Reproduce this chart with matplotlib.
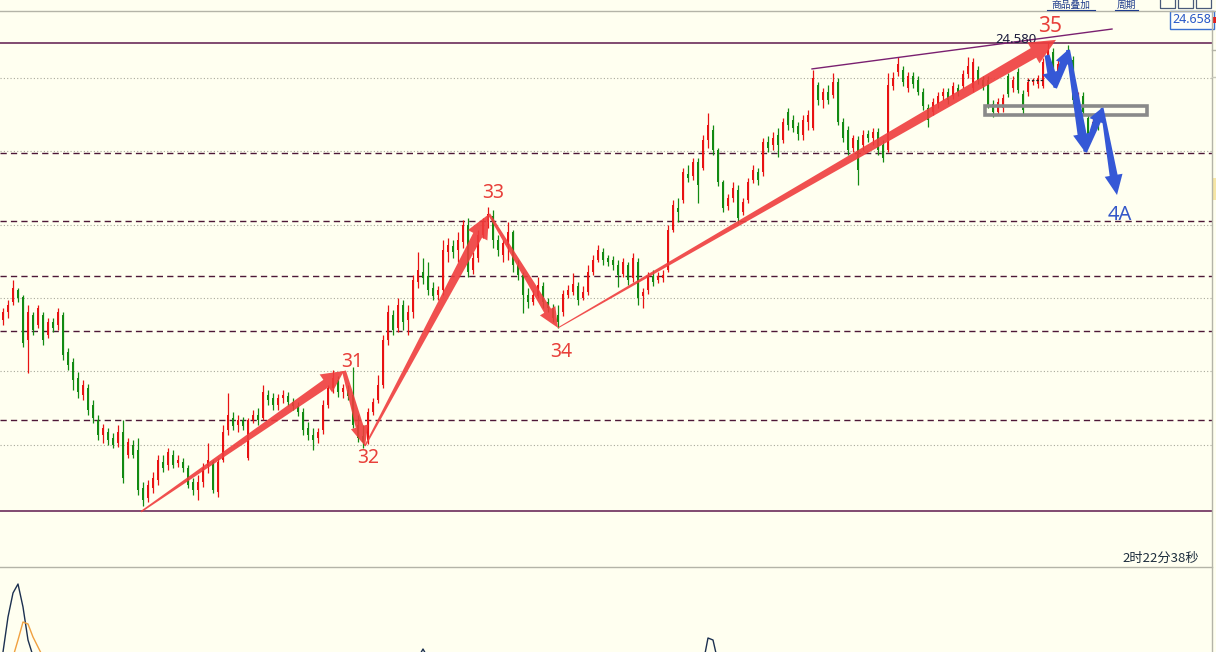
import numpy as np
import matplotlib
matplotlib.use("Agg")
import matplotlib.pyplot as plt
from matplotlib.patches import Polygon, Rectangle
from matplotlib.lines import Line2D
import matplotlib.transforms as mtransforms

# ---------------- data (prices) ----------------
opens = [
23.635, 23.662, 23.696, 23.737, 23.713, 23.567, 23.652, 23.618, 23.652, 23.584,
23.628, 23.618, 23.652, 23.526, 23.491, 23.437, 23.379, 23.403, 23.345, 23.294,
23.243, 23.253, 23.233, 23.216, 23.253, 23.175, 23.209, 23.192, 23.062, 23.028,
23.062, 23.089, 23.151, 23.140, 23.175, 23.147, 23.151, 23.130, 23.082, 23.055,
23.082, 23.137, 23.151, 23.048, 23.157, 23.260, 23.301, 23.277, 23.294, 23.164,
23.294, 23.311, 23.301, 23.379, 23.369, 23.345, 23.369, 23.376, 23.355, 23.342,
23.321, 23.267, 23.243, 23.233, 23.260, 23.345, 23.403, 23.430, 23.389, 23.396,
23.379, 23.277, 23.240, 23.226, 23.321, 23.362, 23.413, 23.567, 23.652, 23.608,
23.686, 23.635, 23.662, 23.764, 23.798, 23.785, 23.744, 23.720, 23.737, 23.867,
23.887, 23.874, 23.901, 23.959, 23.805, 23.846, 23.925, 23.969, 23.990, 23.908,
23.857, 23.891, 23.935, 23.822, 23.788, 23.720, 23.696, 23.717, 23.751, 23.696,
23.676, 23.652, 23.662, 23.720, 23.730, 23.751, 23.710, 23.730, 23.798, 23.840,
23.867, 23.846, 23.840, 23.822, 23.792, 23.822, 23.778, 23.833, 23.717, 23.737,
23.785, 23.771, 23.778, 23.805, 23.942, 24.017, 24.044, 24.133, 24.126, 24.174,
24.153, 24.249, 24.283, 24.215, 24.105, 24.024, 24.051, 24.078, 24.003, 24.044,
24.112, 24.139, 24.139, 24.242, 24.232, 24.266, 24.249, 24.344, 24.317, 24.296,
24.266, 24.310, 24.290, 24.436, 24.385, 24.412, 24.402, 24.446, 24.310, 24.283,
24.221, 24.249, 24.232, 24.269, 24.255, 24.276, 24.232, 24.215, 24.433, 24.480,
24.487, 24.426, 24.467, 24.453, 24.412, 24.358, 24.344, 24.372, 24.399, 24.412,
24.399, 24.426, 24.433, 24.474, 24.426, 24.487, 24.453, 24.453, 24.372, 24.344,
24.358, 24.467, 24.426, 24.480, 24.406, 24.412, 24.446, 24.440, 24.433, 24.515,
24.549, 24.480, 24.508, 24.556, 24.521, 24.372, 24.399, 24.324, 24.283, 24.303,
]
highs = [
23.676, 23.703, 23.771, 23.744, 23.720, 23.686, 23.662, 23.686, 23.662, 23.642,
23.642, 23.676, 23.662, 23.540, 23.505, 23.457, 23.430, 23.416, 23.362, 23.311,
23.280, 23.267, 23.250, 23.277, 23.294, 23.233, 23.226, 23.233, 23.082, 23.089,
23.116, 23.175, 23.175, 23.199, 23.192, 23.175, 23.164, 23.140, 23.096, 23.106,
23.147, 23.216, 23.157, 23.164, 23.277, 23.386, 23.321, 23.311, 23.304, 23.301,
23.328, 23.335, 23.413, 23.396, 23.386, 23.383, 23.396, 23.389, 23.369, 23.355,
23.335, 23.287, 23.267, 23.267, 23.362, 23.413, 23.464, 23.444, 23.416, 23.413,
23.474, 23.311, 23.277, 23.335, 23.369, 23.447, 23.584, 23.686, 23.669, 23.710,
23.703, 23.686, 23.788, 23.867, 23.846, 23.832, 23.764, 23.751, 23.908, 23.915,
23.908, 23.935, 23.976, 23.983, 23.867, 23.942, 23.983, 24.020, 24.010, 23.925,
23.908, 23.969, 23.942, 23.840, 23.798, 23.744, 23.737, 23.781, 23.764, 23.710,
23.690, 23.686, 23.737, 23.754, 23.795, 23.764, 23.751, 23.822, 23.857, 23.891,
23.881, 23.857, 23.853, 23.840, 23.846, 23.833, 23.863, 23.846, 23.744, 23.798,
23.805, 23.798, 23.805, 23.959, 24.044, 24.051, 24.153, 24.163, 24.187, 24.187,
24.266, 24.341, 24.300, 24.221, 24.112, 24.065, 24.105, 24.095, 24.051, 24.119,
24.163, 24.153, 24.255, 24.262, 24.276, 24.289, 24.324, 24.358, 24.334, 24.310,
24.334, 24.351, 24.487, 24.446, 24.426, 24.436, 24.477, 24.460, 24.324, 24.296,
24.266, 24.262, 24.283, 24.283, 24.289, 24.289, 24.249, 24.477, 24.480, 24.532,
24.501, 24.480, 24.480, 24.467, 24.426, 24.372, 24.392, 24.412, 24.426, 24.426,
24.446, 24.440, 24.487, 24.532, 24.528, 24.501, 24.467, 24.467, 24.385, 24.392,
24.406, 24.477, 24.467, 24.494, 24.419, 24.460, 24.460, 24.470, 24.528, 24.583,
24.562, 24.521, 24.538, 24.573, 24.535, 24.412, 24.412, 24.337, 24.327, 24.317,
]
lows = [
23.618, 23.642, 23.686, 23.696, 23.543, 23.454, 23.584, 23.608, 23.550, 23.574,
23.594, 23.601, 23.498, 23.464, 23.396, 23.369, 23.362, 23.311, 23.284, 23.226,
23.216, 23.209, 23.199, 23.202, 23.079, 23.165, 23.165, 23.038, 23.000, 23.014,
23.045, 23.072, 23.116, 23.123, 23.130, 23.133, 23.116, 23.062, 23.038, 23.021,
23.065, 23.113, 23.045, 23.031, 23.151, 23.243, 23.260, 23.253, 23.260, 23.157,
23.284, 23.277, 23.294, 23.345, 23.328, 23.328, 23.352, 23.342, 23.328, 23.308,
23.243, 23.226, 23.192, 23.216, 23.246, 23.335, 23.386, 23.372, 23.369, 23.362,
23.267, 23.219, 23.199, 23.212, 23.311, 23.352, 23.403, 23.550, 23.584, 23.594,
23.601, 23.584, 23.642, 23.744, 23.758, 23.720, 23.703, 23.703, 23.720, 23.833,
23.846, 23.833, 23.881, 23.781, 23.792, 23.833, 23.915, 23.949, 23.881, 23.853,
23.833, 23.840, 23.798, 23.771, 23.659, 23.676, 23.686, 23.710, 23.676, 23.662,
23.628, 23.608, 23.648, 23.710, 23.720, 23.686, 23.703, 23.720, 23.788, 23.833,
23.822, 23.819, 23.805, 23.747, 23.781, 23.754, 23.764, 23.686, 23.676, 23.724,
23.751, 23.761, 23.764, 23.798, 23.935, 23.969, 24.034, 24.105, 24.112, 24.034,
24.146, 24.221, 24.197, 24.092, 24.003, 24.010, 24.037, 23.966, 23.993, 24.034,
24.102, 24.095, 24.126, 24.208, 24.215, 24.191, 24.239, 24.283, 24.276, 24.249,
24.249, 24.283, 24.283, 24.368, 24.358, 24.372, 24.392, 24.300, 24.242, 24.197,
24.208, 24.095, 24.215, 24.242, 24.232, 24.197, 24.174, 24.208, 24.419, 24.467,
24.433, 24.412, 24.426, 24.402, 24.351, 24.293, 24.334, 24.358, 24.385, 24.372,
24.389, 24.399, 24.426, 24.460, 24.412, 24.440, 24.419, 24.358, 24.327, 24.334,
24.344, 24.395, 24.412, 24.409, 24.337, 24.399, 24.436, 24.426, 24.426, 24.501,
24.460, 24.467, 24.494, 24.515, 24.372, 24.351, 24.334, 24.255, 24.273, 24.283,
]
closes = [
23.662, 23.686, 23.744, 23.710, 23.557, 23.662, 23.601, 23.676, 23.567, 23.628,
23.608, 23.662, 23.516, 23.481, 23.430, 23.389, 23.413, 23.328, 23.301, 23.243,
23.267, 23.226, 23.209, 23.253, 23.096, 23.219, 23.175, 23.055, 23.021, 23.072,
23.096, 23.157, 23.130, 23.185, 23.140, 23.157, 23.130, 23.072, 23.055, 23.082,
23.130, 23.157, 23.055, 23.151, 23.253, 23.311, 23.274, 23.294, 23.274, 23.294,
23.311, 23.294, 23.389, 23.362, 23.345, 23.369, 23.379, 23.355, 23.342, 23.321,
23.260, 23.243, 23.226, 23.253, 23.345, 23.403, 23.437, 23.389, 23.403, 23.376,
23.277, 23.233, 23.219, 23.321, 23.355, 23.413, 23.567, 23.662, 23.601, 23.686,
23.628, 23.662, 23.771, 23.805, 23.778, 23.737, 23.717, 23.737, 23.874, 23.891,
23.867, 23.908, 23.959, 23.798, 23.846, 23.925, 23.969, 23.996, 23.908, 23.874,
23.898, 23.935, 23.822, 23.788, 23.720, 23.696, 23.720, 23.754, 23.696, 23.676,
23.642, 23.628, 23.724, 23.737, 23.758, 23.703, 23.730, 23.798, 23.840, 23.874,
23.840, 23.833, 23.822, 23.788, 23.833, 23.771, 23.846, 23.710, 23.730, 23.785,
23.764, 23.785, 23.788, 23.942, 24.027, 24.003, 24.139, 24.119, 24.174, 24.095,
24.249, 24.300, 24.215, 24.105, 24.017, 24.051, 24.085, 23.983, 24.037, 24.105,
24.146, 24.112, 24.242, 24.221, 24.255, 24.232, 24.310, 24.300, 24.289, 24.269,
24.317, 24.334, 24.460, 24.385, 24.412, 24.385, 24.446, 24.310, 24.255, 24.215,
24.255, 24.146, 24.266, 24.255, 24.276, 24.215, 24.187, 24.436, 24.460, 24.508,
24.446, 24.467, 24.440, 24.412, 24.365, 24.317, 24.378, 24.399, 24.412, 24.385,
24.433, 24.412, 24.474, 24.501, 24.515, 24.453, 24.433, 24.368, 24.344, 24.378,
24.392, 24.406, 24.453, 24.419, 24.351, 24.446, 24.450, 24.460, 24.515, 24.556,
24.470, 24.508, 24.528, 24.528, 24.385, 24.399, 24.344, 24.269, 24.310, 24.290,
]

solid_levels = [24.580, 22.983]
dashed_levels = [24.204, 23.972, 23.785, 23.597, 23.294]
grid_levels = [24.46, 24.21, 23.96, 23.71, 23.46, 23.21]

# wave pivots (candle index, price)
wave_labels = ["", "31", "32", "33", "34", "35"]
wave_idx = [27.6, 68.2, 72.4, 97.2, 111.0, 210.6]
wave_price = [22.981, 23.461, 23.205, 23.996, 23.608, 24.590]

# projected path (blue)
proj_idx = [208.8, 210.4, 213.0, 216.4, 219.8, 222.8]
proj_price = [24.538, 24.426, 24.556, 24.208, 24.358, 24.061]
proj_label = "4A"

trend_idx = [161.8, 221.8]
trend_price = [24.491, 24.627]
zone_idx = [196.4, 228.8]
zone_price = [24.334, 24.365]
mark_idx = [204.8, 208.0]
mark_price = 24.453

level_text = "24.580"
level_text_idx = 202.6
last_price = 24.658
timer_text = "2时22分38秒"
header_items = ["商品叠加", "周期"]

osc_dark = {"idx": [[0, 1, 2, 3, 4, 5, 6], [83, 84, 85], [140, 141, 142, 143]],
            "val": [[0, 35, 59, 68, 45, 12, -4], [-6, 3, -6], [-12, 14, 12, -10]]}
osc_orange = {"idx": [[2, 3, 4, 5, 6, 7, 8]],
              "val": [[-5, 12, 30, 28, 15, 5, -5]]}

# ---------------- styling ----------------
W, H = 1216, 652
BG = "#fffff0"
RED = "#e81212"
GREEN = "#128a12"
ARROW_RED = "#ef3d3d"
ARROW_BLUE = "#3558d6"
LABEL_RED = "#e8403a"
CJK = ["Noto Sans CJK SC", "DejaVu Sans"]
plt.rcParams["font.family"] = ["Noto Sans", "DejaVu Sans"]

fig = plt.figure(figsize=(W / 100, H / 100), dpi=100)
fig.patch.set_facecolor(BG)


def fx(px):
    return px / W


def fy(py):
    return 1 - py / H


def clean(a):
    a.set_facecolor(BG)
    for s in a.spines.values():
        s.set_visible(False)
    a.set_xticks([])
    a.set_yticks([])


XLIM = (-0.6, 241.8)
ax = fig.add_axes([0, fy(567), fx(1212), (567 - 11) / H])
clean(ax)
ax.set_xlim(*XLIM)
ax.set_ylim(22.7925, 24.6885)

for lv in grid_levels:
    ax.axhline(lv, color="#a9a99c", lw=0.8, ls=(0, (1, 2)), zorder=1)
for lv in dashed_levels:
    ax.axhline(lv, color="#4d1838", lw=1.0, ls=(0, (4.5, 3)), zorder=1.5)
for lv in solid_levels:
    ax.axhline(lv, color="#5e1a4e", lw=1.1, zorder=1.5)

o = np.array(opens); h = np.array(highs); l = np.array(lows); c = np.array(closes)
xi = np.arange(len(o))
col = np.where(c >= o, RED, GREEN)
ax.vlines(xi, np.minimum(l, np.minimum(o, c)), np.maximum(h, np.maximum(o, c)),
          colors=col, lw=0.9, zorder=3)
ax.bar(xi, np.maximum(np.abs(c - o), 0.004), bottom=np.minimum(o, c), width=0.46,
       color=col, lw=0, zorder=3)

ax.plot(trend_idx, trend_price, color="#7a2070", lw=1.0, zorder=4)
ax.add_patch(Rectangle((zone_idx[0], zone_price[0]), zone_idx[1] - zone_idx[0],
                       zone_price[1] - zone_price[0], fill=False, ec="#8a8a8a",
                       lw=2.6, zorder=4))
ax.hlines(mark_price, mark_idx[0], mark_idx[1], colors="#222222", lw=0.9,
          ls=(0, (2, 1.5)), zorder=4)
ax.annotate(level_text, xy=(level_text_idx, solid_levels[0]), xytext=(0, 3),
            textcoords="offset pixels", ha="center", va="center", fontsize=9.5,
            color="#1c1c3c", zorder=4.5)


def taper_arrow(p0, p1, w0, w1, hl, hw, color, alpha=1.0, z=5):
    T = ax.transData
    s = T.transform(p0)
    t = T.transform(p1)
    d = t - s
    u = d / np.hypot(*d)
    n = np.array([-u[1], u[0]])
    b = t - u * hl
    pts = [s + n * w0 / 2, b + n * w1 / 2, b + n * hw / 2, t,
           b - n * hw / 2, b - n * w1 / 2, s - n * w0 / 2]
    ax.add_patch(Polygon(T.inverted().transform(pts), closed=True, fc=color,
                         ec="none", alpha=alpha, zorder=z))


red_style = [(1.5, 9, 22, 22), (4, 8, 20, 18), (1.5, 10, 24, 22),
             (2.5, 8, 20, 18), (1.0, 11, 26, 24)]
for k in range(len(wave_idx) - 1):
    w0, w1, hl, hw = red_style[k]
    taper_arrow((wave_idx[k], wave_price[k]), (wave_idx[k + 1], wave_price[k + 1]),
                w0, w1, hl, hw, ARROW_RED, alpha=0.9)

blue_style = [(5, 8, 16, 18), (4, 8, 14, 16), (4, 9, 18, 18),
              (4, 8, 14, 16), (3, 8, 20, 18)]
for k in range(len(proj_idx) - 1):
    w0, w1, hl, hw = blue_style[k]
    taper_arrow((proj_idx[k], proj_price[k]), (proj_idx[k + 1], proj_price[k + 1]),
                w0, w1, hl, hw, ARROW_BLUE, alpha=1.0, z=5.5)

label_off = [None, (8, 4), (3, -17), (4, 16), (3, -29), (-6, 8)]
label_size = [0, 14, 14, 14, 14, 15]
for k, lab in enumerate(wave_labels):
    if not lab:
        continue
    ax.annotate(lab, xy=(wave_idx[k], wave_price[k]), xytext=label_off[k],
                textcoords="offset pixels", ha="center", va="baseline",
                fontsize=label_size[k], color=LABEL_RED, zorder=6)
ax.annotate(proj_label, xy=(proj_idx[-1], proj_price[-1]), xytext=(3, -25),
            textcoords="offset pixels", ha="center", va="baseline", fontsize=14.5,
            color="#3558c8", zorder=6)

trans = mtransforms.blended_transform_factory(ax.transAxes, ax.transData)
ax.text(0.9993, last_price, f"{last_price:.3f}", transform=trans, ha="right",
        va="center", fontsize=9, color="#2858c8", zorder=7,
        bbox=dict(boxstyle="square,pad=0.2", fc="#fffff8", ec="#3a70d0", lw=1))

# ---------------- lower indicator panel ----------------
ax2 = fig.add_axes([0, 0, fx(1212), (652 - 567) / H])
clean(ax2)
ax2.set_xlim(*XLIM)
ax2.set_ylim(0, 85)
for ix, vv in zip(osc_dark["idx"], osc_dark["val"]):
    ax2.plot(ix, vv, color="#1c3050", lw=1.0)
for ix, vv in zip(osc_orange["idx"], osc_orange["val"]):
    ax2.plot(ix, vv, color="#f0a040", lw=1.0)

# ---------------- frame, header, misc ----------------
def fline(xs, ys, color, lw=1.0):
    fig.add_artist(Line2D([fx(v) for v in xs], [fy(v) for v in ys], color=color,
                          lw=lw, transform=fig.transFigure))


def frect(x0, y0, x1, y1, fc="none", ec="none", lw=1.0):
    fig.add_artist(Rectangle((fx(x0), fy(y1)), fx(x1 - x0), (y1 - y0) / H, fc=fc,
                             ec=ec, lw=lw, transform=fig.transFigure))


fline([0, 1216], [11, 11], "#b4b4a8")
fline([0, 1212], [567, 567], "#b4b4a8")
fline([1212, 1212], [11, 652], "#b4b4a8")
fline([1212, 1216], [50, 50], "#b4b4a8")
fline([1212, 1216], [77, 77], "#c8c8bc")
frect(1213, 178, 1216, 200, fc="#f6e6a6")
frect(1213, 17, 1216, 23, fc="#e02020")

hx = [(1071, 1047, 1095), (1126, 1115, 1138)]
for txt, (cx, x0, x1) in zip(header_items, hx):
    fig.text(fx(cx), fy(0.3), txt, ha="center", va="top", fontsize=7,
             color="#1f3c8c", family=CJK)
    fline([x0, x1], [9.5, 9.5], "#1f3c8c", lw=0.8)
for x0 in (1160, 1178, 1196):
    frect(x0, -2, x0 + 15, 8, ec="#4a5a7a", lw=0.9)

fig.text(fx(1199), fy(558), timer_text, ha="right", va="center", fontsize=9.5,
         color="#1e2e3e", family=CJK)

fig.savefig("out.png", dpi=100, facecolor=BG)
